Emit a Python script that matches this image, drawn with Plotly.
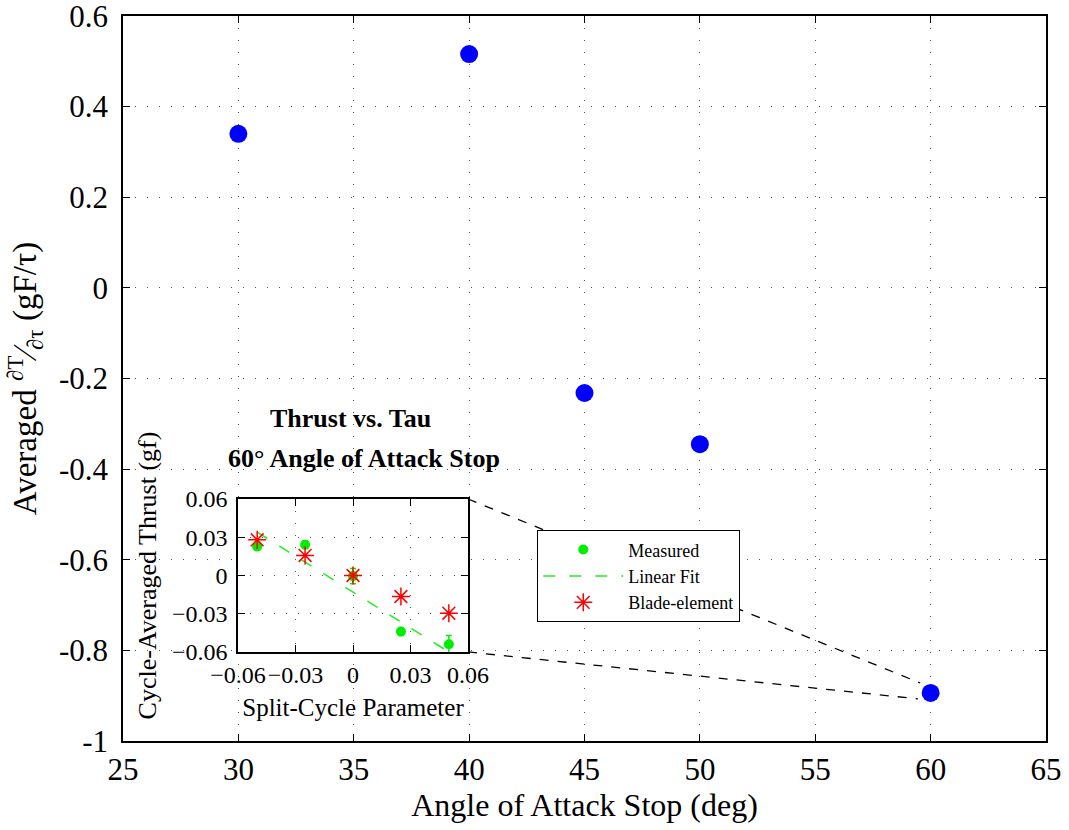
import plotly.graph_objects as go

# ---- main data ----
aoa_stop = [30, 40, 45, 50, 60]
dT_dtau = [0.340, 0.516, -0.232, -0.345, -0.894]

# ---- inset data (60 deg stop) ----
tau = [-0.05, -0.025, 0.0, 0.025, 0.05]
measured = [0.0228, 0.0241, -0.0005, -0.044, -0.054]
measured_err = [0.003, 0.003, 0.006, 0.003, 0.007]
blade = [0.028, 0.0157, 0.0, -0.0165, -0.0296]
fit_x = [-0.05, 0.05]
fit_y = [0.034, -0.060]

x_ticks = [25, 30, 35, 40, 45, 50, 55, 60, 65]
y_ticks = [-1, -0.8, -0.6, -0.4, -0.2, 0, 0.2, 0.4, 0.6]
y_ticktext = ["-1", "-0.8", "-0.6", "-0.4", "-0.2", "0", "0.2", "0.4", "0.6"]
in_ticks = [-0.06, -0.03, 0, 0.03, 0.06]
in_x_ticktext = ["\u22120.06", "\u22120.03", "0", "0.03", "0.06"]
in_y_ticktext = ["0.06", "0.03", "0", "\u22120.03", "\u22120.06"]

FONT = "Liberation Serif"
XR = [25, 65]
YR = [-1, 0.6]
INX = [0.1246, 0.3738]
INY = [0.1228, 0.3338]

fig = go.Figure()
fig.add_trace(go.Scatter(x=aoa_stop, y=dT_dtau, mode="markers",
                         marker=dict(color="#0000ff", size=18),
                         showlegend=False, xaxis="x", yaxis="y"))

fig.add_trace(go.Scatter(x=tau, y=measured, mode="markers", name="Measured",
                         marker=dict(color="#00ee00", size=10),
                         error_y=dict(type="data", array=measured_err, color="#00ee00",
                                      thickness=1.5, width=3),
                         xaxis="x2", yaxis="y2"))
fig.add_trace(go.Scatter(x=fit_x, y=fit_y, mode="lines", name="Linear Fit",
                         line=dict(color="#22ee22", width=1.5, dash="12px,14px"),
                         xaxis="x2", yaxis="y2"))
fig.add_trace(go.Scatter(x=tau, y=blade, mode="markers", name="Blade-element",
                         marker=dict(color="#ff0000", size=15, symbol="asterisk-open",
                                     line=dict(color="#ff0000", width=1.5)),
                         xaxis="x2", yaxis="y2"))

axis_common = dict(showline=True, linecolor="black", linewidth=1.5, mirror="allticks",
                   ticks="inside", ticklen=7, tickcolor="black", zeroline=False,
                   showgrid=True, gridcolor="#555", griddash="1px,11px", gridwidth=1.3,
                   automargin=False, ticklabeloverflow="allow", tickangle=0)

fig.update_layout(
    width=1069, height=830,
    margin=dict(l=123, r=23, t=16, b=89),
    paper_bgcolor="white", plot_bgcolor="white",
    font=dict(family=FONT, color="black"),
    xaxis=dict(range=XR, tickvals=x_ticks, tickfont=dict(size=31),
               title=dict(text="Angle of Attack Stop (deg)", font=dict(size=32), standoff=6),
               **axis_common),
    yaxis=dict(range=YR, tickvals=y_ticks, ticktext=y_ticktext, tickfont=dict(size=31),
               ticklabelstandoff=7,
               title=dict(text="Averaged <sup>\u2202T</sup>\u2044<sub>\u2202\u03c4</sub> (gF/\u03c4)",
                          font=dict(size=33), standoff=12),
               **axis_common),
    xaxis2=dict(domain=INX, anchor="y2", range=[-0.06, 0.06], tickvals=in_ticks,
                ticktext=in_x_ticktext, tickfont=dict(size=24),
                title=dict(text="Split-Cycle Parameter", font=dict(size=25), standoff=12),
                **axis_common),
    yaxis2=dict(domain=INY, anchor="x2", range=[-0.06, 0.06], tickvals=in_ticks[::-1],
                ticktext=in_y_ticktext, tickfont=dict(size=24), ticklabelstandoff=4,
                title=dict(text="Cycle-Averaged Thrust (gf)", font=dict(size=26), standoff=8),
                **axis_common),
    legend=dict(x=0.4485, y=0.291, xanchor="left", yanchor="top",
                bordercolor="black", borderwidth=1.3, bgcolor="white",
                font=dict(size=18, family=FONT), tracegroupgap=0,
                itemwidth=80),
)

# white backing for the inset so main grid does not show through it
fig.add_shape(type="rect", xref="x2", yref="y2", x0=-0.06, x1=0.06, y0=-0.06, y1=0.06,
              fillcolor="white", line=dict(width=0), layer="below")

fig.add_annotation(text="<b>Thrust vs. Tau</b>", x=0.246, y=0.4455, xanchor="center",
                   yanchor="middle", xref="paper", yref="paper", showarrow=False,
                   font=dict(size=26))
fig.add_annotation(text="<b>60\u00b0 Angle of Attack Stop</b>", x=0.261, y=0.389,
                   xanchor="center", yanchor="middle", xref="paper", yref="paper",
                   showarrow=False, font=dict(size=26))

# zoom connector lines from inset corners to the 60 deg point
def paper_to_data(px, py):
    return XR[0] + px * (XR[1] - XR[0]), YR[0] + py * (YR[1] - YR[0])

cx, cy_top = paper_to_data(INX[1], INY[1])
_, cy_bot = paper_to_data(INX[1], INY[0])
fig.add_shape(type="line", xref="x", yref="y", x0=cx, y0=cy_top, x1=59.55, y1=-0.872,
              line=dict(color="black", width=1.3, dash="dash"), layer="above")
fig.add_shape(type="line", xref="x", yref="y", x0=cx, y0=cy_bot, x1=59.45, y1=-0.907,
              line=dict(color="black", width=1.3, dash="dash"), layer="above")

# remove the default page margin so the figure fills the window exactly
fig.write_html("out.html", config={"displayModeBar": False},
               post_script="document.body.style.margin='0';")
